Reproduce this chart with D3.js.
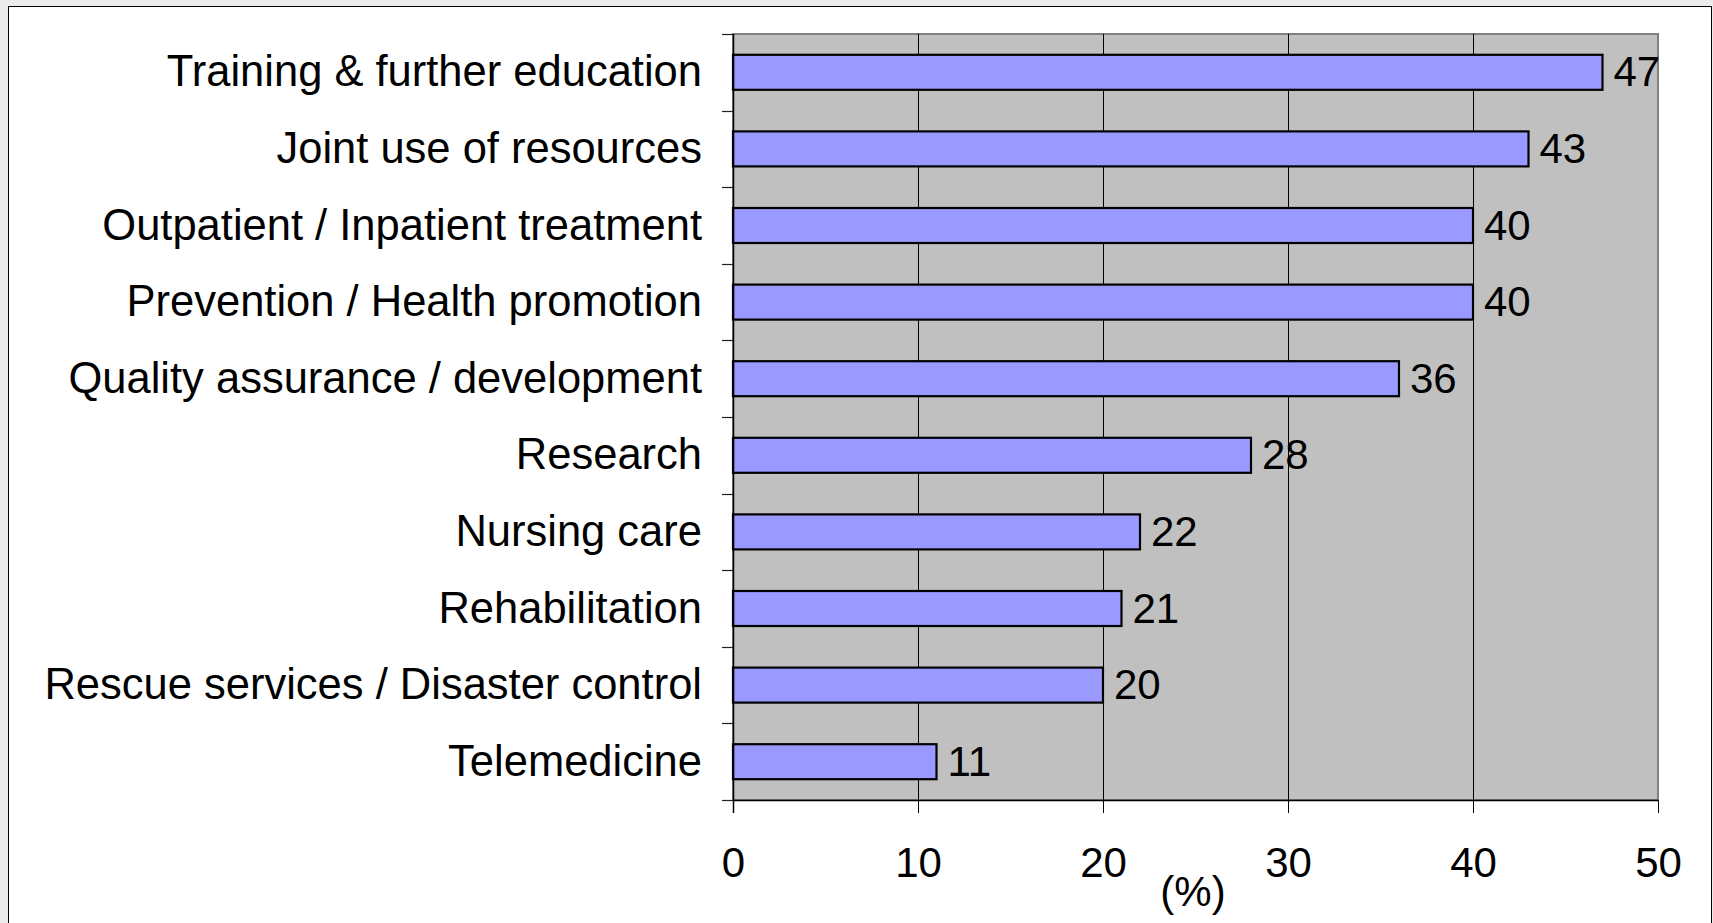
<!DOCTYPE html>
<html>
<head>
<meta charset="utf-8">
<script src="https://cdn.jsdelivr.net/npm/d3@7"></script>
<style>
  html, body { margin: 0; padding: 0; background: #ebebeb; }
  svg { display: block; }
  text { font-family: "Liberation Sans", Arial, sans-serif; fill: #000; }
</style>
</head>
<body>
<script>
var categories = [
  "Training & further education",
  "Joint use of resources",
  "Outpatient / Inpatient treatment",
  "Prevention / Health promotion",
  "Quality assurance / development",
  "Research",
  "Nursing care",
  "Rehabilitation",
  "Rescue services / Disaster control",
  "Telemedicine"
];
var values = [47, 43, 40, 40, 36, 28, 22, 21, 20, 11];
var xTicks = [0, 10, 20, 30, 40, 50];
var xLabel = "(%)";

var data = categories.map(function(c, i) { return {name: c, value: values[i]}; });

var W = 1713, H = 923;
var plot = {left: 733, right: 1658, top: 34, bottom: 800};

var svg = d3.select("body").append("svg")
  .attr("width", W)
  .attr("height", H);

// white panel
svg.append("rect")
  .attr("x", 8.5).attr("y", 6.5)
  .attr("width", 1703).attr("height", 930)
  .attr("fill", "#fff")
  .attr("stroke", "#000")
  .attr("stroke-width", 1);

var x = d3.scaleLinear()
  .domain([0, 50])
  .range([plot.left, plot.right]);

var y = d3.scaleBand()
  .domain(categories)
  .range([plot.top, plot.bottom])
  .paddingInner(0.543)
  .paddingOuter(0.2715);

// plot background
svg.append("rect")
  .attr("x", plot.left).attr("y", plot.top)
  .attr("width", plot.right - plot.left)
  .attr("height", plot.bottom - plot.top)
  .attr("fill", "#c0c0c0")
  .attr("stroke", "#808080")
  .attr("stroke-width", 2);

// vertical gridlines
svg.append("g")
  .selectAll("line")
  .data(xTicks.slice(1, -1))
  .enter().append("line")
  .attr("x1", function(d) { return Math.round(x(d)) + 0.5; })
  .attr("x2", function(d) { return Math.round(x(d)) + 0.5; })
  .attr("y1", plot.top)
  .attr("y2", plot.bottom)
  .attr("stroke", "#000")
  .attr("stroke-width", 1);

// bars
svg.append("g")
  .selectAll("rect")
  .data(data)
  .enter().append("rect")
  .attr("x", x(0))
  .attr("y", function(d) { return y(d.name); })
  .attr("width", function(d) { return x(d.value) - x(0); })
  .attr("height", y.bandwidth())
  .attr("fill", "#9999ff")
  .attr("stroke", "#000")
  .attr("stroke-width", 2.2);

// value labels
svg.append("g")
  .selectAll("text")
  .data(data)
  .enter().append("text")
  .attr("x", function(d) { return x(d.value) + 11; })
  .attr("y", function(d) { return y(d.name) + y.bandwidth() / 2 + 14; })
  .style("font-size", "42px")
  .text(function(d) { return d.value; });

// y axis (category ticks sit between bands)
var yEdges = categories.map(function(c) { return y(c) + y.bandwidth() / 2 - y.step() / 2; });
yEdges.push(plot.bottom);

var yAxis = svg.append("g");
yAxis.append("line")
  .attr("x1", plot.left + 0.5).attr("x2", plot.left + 0.5)
  .attr("y1", plot.top).attr("y2", plot.bottom + 13)
  .attr("stroke", "#000").attr("stroke-width", 1.5);
yAxis.selectAll("line.tick")
  .data(yEdges)
  .enter().append("line")
  .attr("class", "tick")
  .attr("x1", plot.left - 11).attr("x2", plot.left)
  .attr("y1", function(d) { return Math.round(d) + 0.5; })
  .attr("y2", function(d) { return Math.round(d) + 0.5; })
  .attr("stroke", "#222").attr("stroke-width", 1.2);

yAxis.selectAll("text")
  .data(categories)
  .enter().append("text")
  .attr("x", plot.left - 31)
  .attr("y", function(d) { return y(d) + y.bandwidth() / 2 + 14; })
  .attr("text-anchor", "end")
  .style("font-size", "43.5px")
  .text(function(d) { return d; });

// x axis
var xAxis = d3.axisBottom(x)
  .tickValues(xTicks)
  .tickSize(13)
  .tickPadding(34)
  .tickSizeOuter(0);

var xg = svg.append("g")
  .attr("transform", "translate(0," + plot.bottom + ")")
  .call(xAxis);
xg.select(".domain").attr("stroke", "#000").attr("stroke-width", 1.5);
xg.selectAll(".tick line").attr("stroke", "#000");
xg.selectAll(".tick text")
  .style("font-size", "42px")
  .style("font-family", "'Liberation Sans', Arial, sans-serif")
  .attr("fill", "#000");

svg.append("text")
  .attr("x", 1193)
  .attr("y", 906)
  .attr("text-anchor", "middle")
  .style("font-size", "42px")
  .text(xLabel);
</script>
</body>
</html>
